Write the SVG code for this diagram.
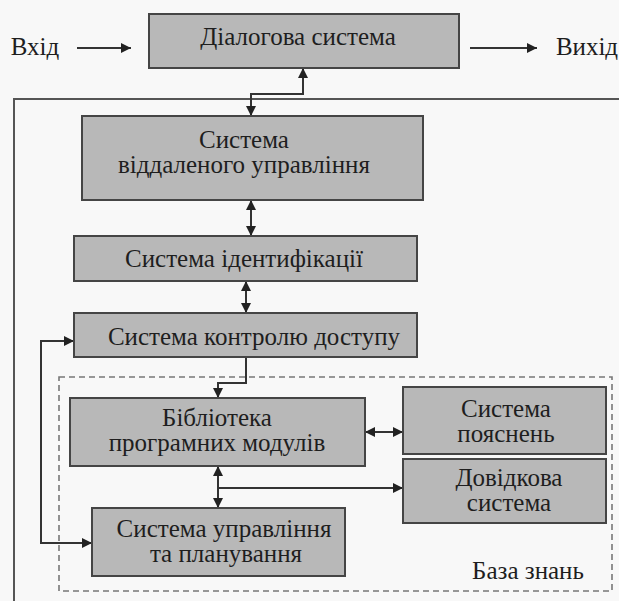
<svg xmlns="http://www.w3.org/2000/svg" width="619" height="601" viewBox="0 0 619 601">
<defs>
<style>
.bg{fill:#f8f8f8}
.box{fill:#b8b8b8;stroke:#454545;stroke-width:2}
.t{font-family:'Liberation Serif','DejaVu Serif',serif;font-size:25px;fill:#1e1e1e;text-anchor:middle}
.ln{fill:none;stroke:#333;stroke-width:2}
.frame{fill:none;stroke:#555;stroke-width:2}
.dash{fill:none;stroke:#777;stroke-width:1.6;stroke-dasharray:6,4}
</style>
<marker id="ah" viewBox="0 0 10 10" refX="10" refY="5" markerWidth="5" markerHeight="5" orient="auto-start-reverse" markerUnits="strokeWidth">
<path d="M0,0 L10,5 L0,10 Z" fill="#222"/>
</marker>
</defs>
<rect class="bg" x="0" y="0" width="619" height="601"/>
<path class="frame" d="M14,601 V99 H619"/>
<rect class="dash" x="59" y="377" width="553" height="214"/>

<g id="connectors">
<path class="ln" d="M77,48 H131" marker-end="url(#ah)"/>
<path class="ln" d="M470,48 H537" marker-end="url(#ah)"/>
<path class="ln" d="M303,68 V94 H251 V116" marker-start="url(#ah)" marker-end="url(#ah)"/>
<path class="ln" d="M251,200 V236" marker-start="url(#ah)" marker-end="url(#ah)"/>
<path class="ln" d="M246,281 V313" marker-start="url(#ah)" marker-end="url(#ah)"/>
<path class="ln" d="M246,357 V383 H218 V398" marker-end="url(#ah)"/>
<path class="ln" d="M365,432 H403" marker-start="url(#ah)" marker-end="url(#ah)"/>
<path class="ln" d="M218,466 V508" marker-start="url(#ah)" marker-end="url(#ah)"/>
<path class="ln" d="M218,488 H403" marker-end="url(#ah)"/>
<path class="ln" d="M74,341 H41 V543 H92" marker-start="url(#ah)" marker-end="url(#ah)"/>
</g>

<g id="input"><text class="t" font-family="Liberation Serif, DejaVu Serif, serif" x="35" y="55">Вхід</text></g>
<g id="output"><text class="t" font-family="Liberation Serif, DejaVu Serif, serif" x="587" y="55">Вихід</text></g>

<g id="dialog">
<rect class="box" x="149" y="14" width="310" height="54"/>
<text class="t" font-family="Liberation Serif, DejaVu Serif, serif" x="298" y="45">Діалогова система</text>
</g>
<g id="remote">
<rect class="box" x="82" y="116" width="341" height="84"/>
<text class="t" font-family="Liberation Serif, DejaVu Serif, serif" x="244" y="148">Система</text>
<text class="t" font-family="Liberation Serif, DejaVu Serif, serif" x="244" y="173">віддаленого управління</text>
</g>
<g id="ident">
<rect class="box" x="74" y="236" width="343" height="45"/>
<text class="t" font-family="Liberation Serif, DejaVu Serif, serif" x="244" y="267">Система ідентифікації</text>
</g>
<g id="access">
<rect class="box" x="74" y="313" width="343" height="44"/>
<text class="t" font-family="Liberation Serif, DejaVu Serif, serif" x="254" y="345">Система контролю доступу</text>
</g>
<g id="library">
<rect class="box" x="70" y="398" width="295" height="68"/>
<text class="t" font-family="Liberation Serif, DejaVu Serif, serif" x="217" y="426">Бібліотека</text>
<text class="t" font-family="Liberation Serif, DejaVu Serif, serif" x="217" y="451">програмних модулів</text>
</g>
<g id="explain">
<rect class="box" x="403" y="387" width="203" height="67"/>
<text class="t" font-family="Liberation Serif, DejaVu Serif, serif" x="506" y="417">Система</text>
<text class="t" font-family="Liberation Serif, DejaVu Serif, serif" x="506" y="442">пояснень</text>
</g>
<g id="help">
<rect class="box" x="403" y="459" width="203" height="64"/>
<text class="t" font-family="Liberation Serif, DejaVu Serif, serif" x="509" y="486">Довідкова</text>
<text class="t" font-family="Liberation Serif, DejaVu Serif, serif" x="509" y="511">система</text>
</g>
<g id="control">
<rect class="box" x="92" y="508" width="253" height="68"/>
<text class="t" font-family="Liberation Serif, DejaVu Serif, serif" x="224" y="537">Система управління</text>
<text class="t" font-family="Liberation Serif, DejaVu Serif, serif" x="226" y="562">та планування</text>
</g>
<g id="kb"><text class="t" font-family="Liberation Serif, DejaVu Serif, serif" x="528" y="579">База знань</text></g>
</svg>
